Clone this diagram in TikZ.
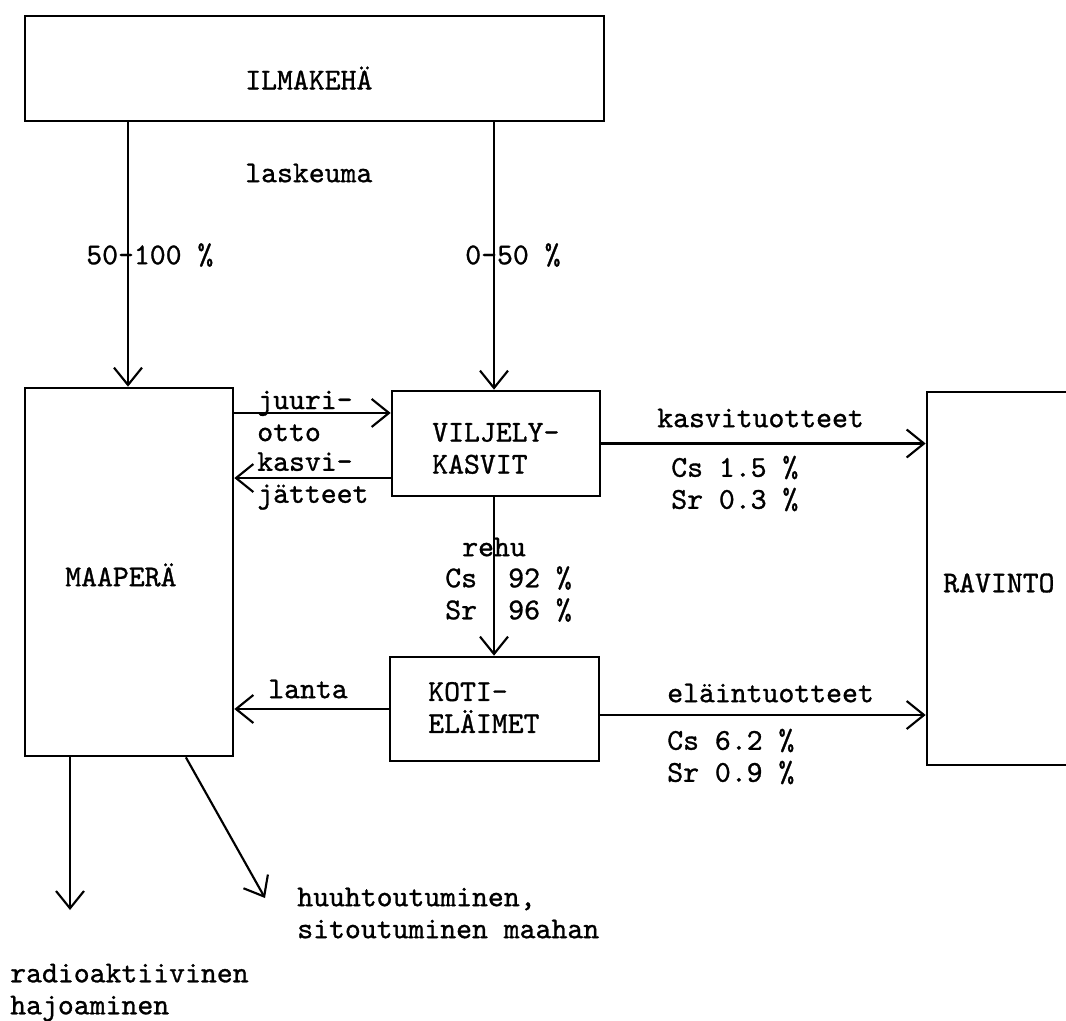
\documentclass[tikz,border=0pt]{standalone}
\usepackage{fontspec}
\newfontfamily\tw{lmmono10-regular.otf}[FakeBold=1]
\usetikzlibrary{arrows.meta,calc}
\newdimen\pxu \pxu=0.75pt
\begin{document}
\begin{tikzpicture}[x=0.75pt,y=-0.75pt,
  every node/.style={font=\tw\fontsize{22.7}{24}\selectfont},
  box/.style={draw,line width=2pt,rectangle,inner sep=0pt},
  txt/.style={inner sep=0pt,anchor=west,align=left},
  arr/.style={line width=1.6pt,-{Straight Barb[length=13pt,width=21pt,line width=1.6pt]}}]
\path[use as bounding box,clip] (0,0) rectangle (1066,1020);
% boxes
\node[box,minimum width=579\pxu,minimum height=105\pxu] (ilma) at (314.5,68.5) {};
\node[txt] (ilmat) at (245,78) {ILMAKEHÄ};
\node[box,minimum width=208\pxu,minimum height=368\pxu] (maa) at (129,572) {};
\node[txt] (maat) at (65,575) {MAAPERÄ};
\node[box,minimum width=208\pxu,minimum height=105\pxu] (vil) at (496,443.5) {};
\node[txt] (vilt) at (432,448.5) {VILJELY-\\KASVIT};
\node[box,minimum width=209\pxu,minimum height=104\pxu] (koti) at (494.5,709) {};
\node[txt] (kotit) at (428,707.5) {KOTI-\\ELÄIMET};
\node[box,minimum width=144\pxu,minimum height=373\pxu] (rav) at (999,578.5) {};
\node[txt] (ravt) at (943,583) {RAVINTO};
% connectors
\coordinate (a1) at (128,0);
\coordinate (a2) at (494,0);
\draw[arr] (a1 |- ilma.south) -- (a1 |- maa.north);
\draw[arr] (a2 |- ilma.south) -- (a2 |- vil.north);
\coordinate (j1) at ([yshift=22.9pt]vil.west);
\coordinate (k1) at ([yshift=-25.9pt]vil.west);
\draw[arr] (maa.east |- j1) -- (j1);
\draw[arr] (k1) -- (k1 -| maa.east);
\draw[arr] (a2 |- vil.south) -- (a2 |- koti.north);
\draw[arr] (koti.west) -- (koti.west -| maa.east);
\draw[arr] (vil.east) -- (vil.east -| rav.west);
\coordinate (e1) at ([yshift=-4.5pt]koti.east);
\draw[arr] (e1) -- (e1 -| rav.west);
\coordinate (d1) at (70,910);
\coordinate (d2) at (265,898);
\draw[arr] (maa.south -| d1) -- (d1);
\draw[arr] ($(maa.south east)!0.23!(maa.south west)$) -- (d2);
% labels
\node[txt] (lask) at (245,173) {laskeuma};
\node[txt] (p1) at (86,255) {50-100 \%};
\node[txt] (p2) at (465,255) {0-50 \%};
\node[txt] (ju) at (257,416) {juuri-\\otto};
\node[txt] (ka) at (257,481) {kasvi-\\jätteet};
\node[txt] (rehu) at (462,547) {rehu};
\node[txt] (rcs) at (445,594) {Cs\\Sr};
\node[txt] (rpc) at (508,594) {92 \%\\96 \%};
\node[txt] (lanta) at (268,689) {lanta};
\node[txt] (kt) at (657,418) {kasvituotteet};
\node[txt] (kp) at (671,483.5) {Cs 1.5 \%\\Sr 0.3 \%};
\node[txt] (et) at (667,693) {eläintuotteet};
\node[txt] (ep) at (667,756.5) {Cs 6.2 \%\\Sr 0.9 \%};
\node[txt] (hu) at (297,913) {huuhtoutuminen,\\sitoutuminen maahan};
\node[txt] (ra) at (10,992.5) {radioaktiivinen\\hajoaminen};
\end{tikzpicture}
\end{document}
